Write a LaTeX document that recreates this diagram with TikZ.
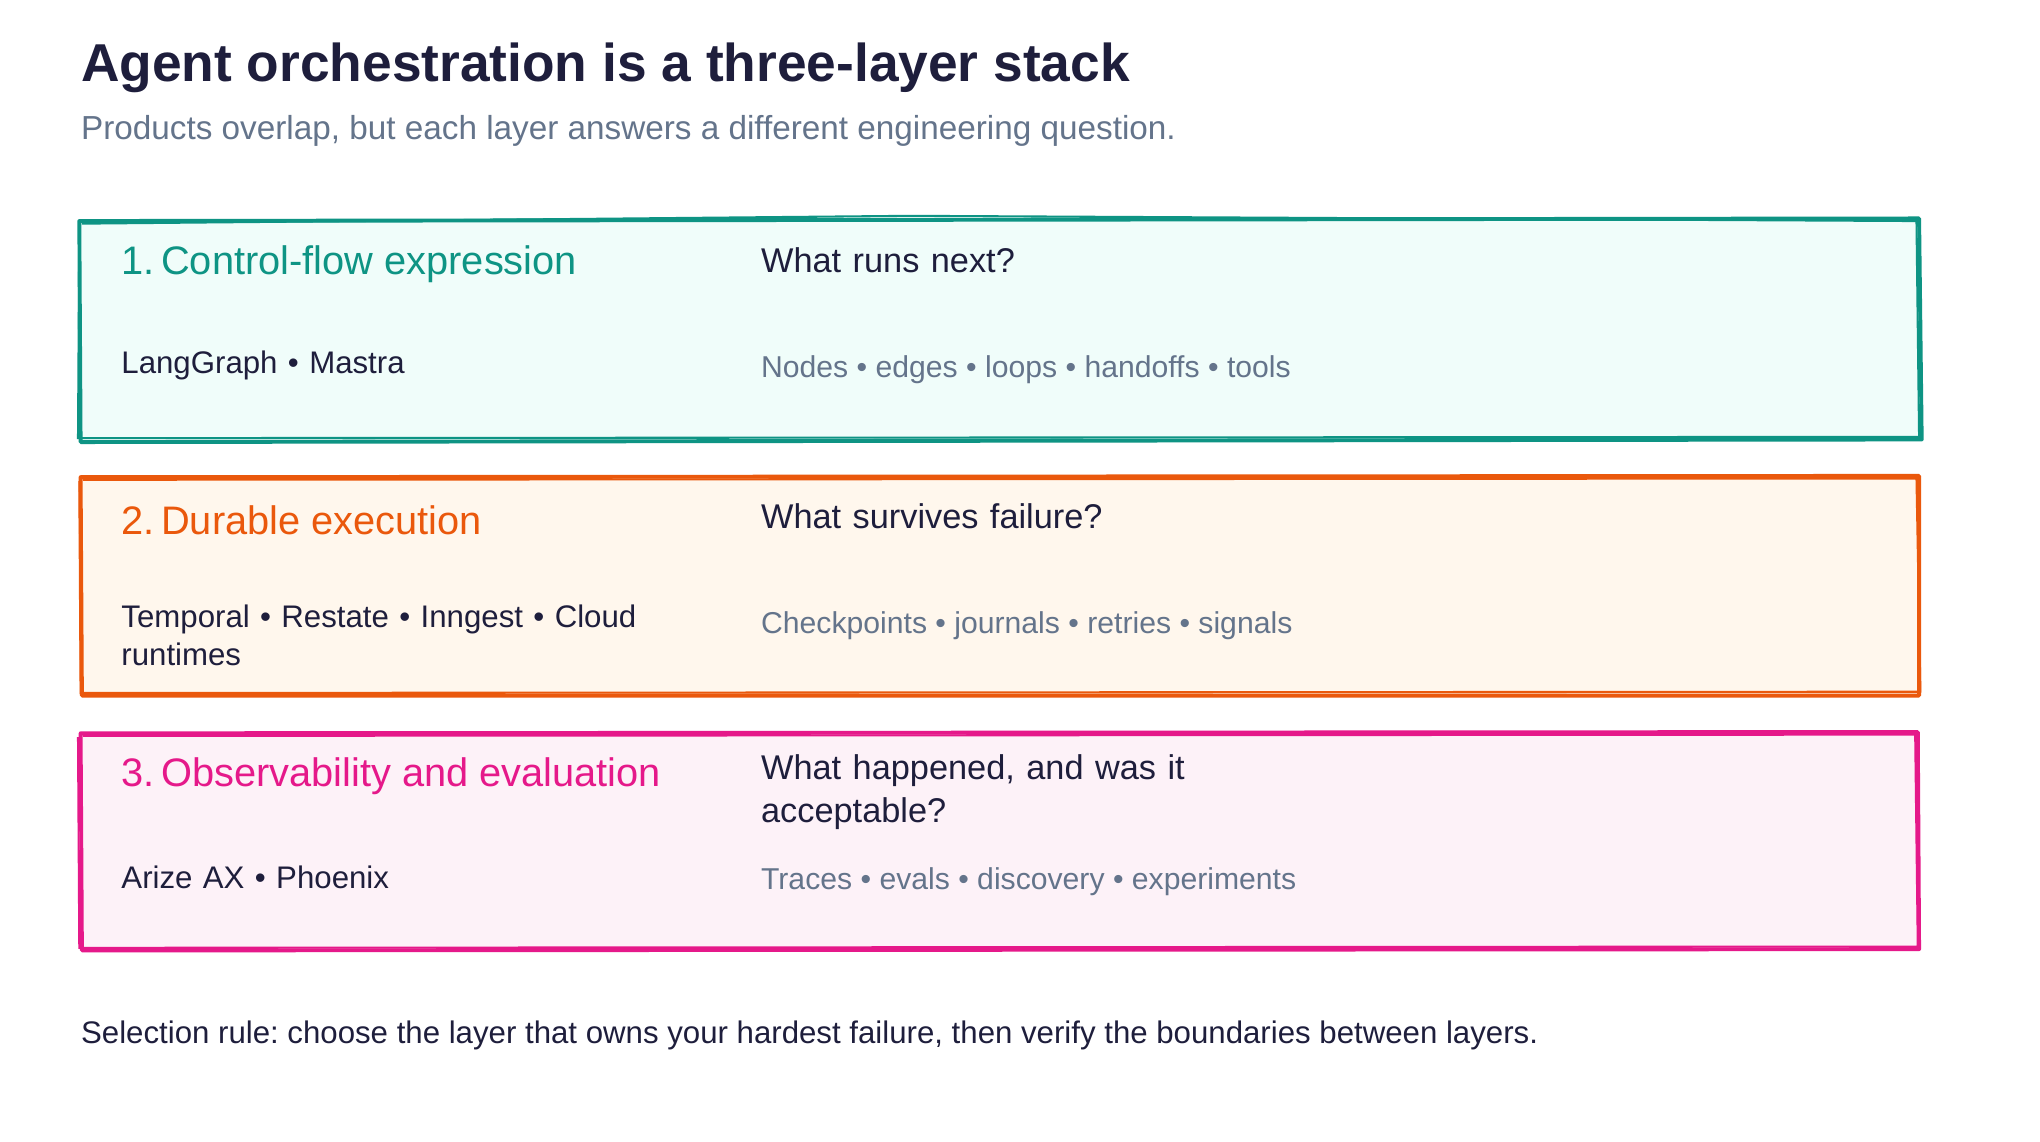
\documentclass[tikz,border=0pt]{standalone}
\usepackage{fontspec}
\setmainfont{Liberation Sans}
\frenchspacing
\hyphenpenalty=10000
\exhyphenpenalty=10000
\definecolor{ink}{HTML}{1E1E3C}
\definecolor{mute}{HTML}{64748B}
\definecolor{tealc}{HTML}{0E9484}
\definecolor{tealf}{HTML}{F0FDFA}
\definecolor{orc}{HTML}{EA580C}
\definecolor{orf}{HTML}{FFF7ED}
\definecolor{pkc}{HTML}{E5198A}
\definecolor{pkf}{HTML}{FDF2F8}
\begin{document}
\begin{tikzpicture}[x=0.5pt,y=-0.5pt,every node/.style={inner sep=0pt},
  head/.style={anchor=west,font=\fontsize{15.3}{18}\selectfont},
  q/.style={anchor=west,text=ink,font=\fontsize{13.2}{16.5}\selectfont,align=left,text width=170pt},
  item/.style={anchor=west,text=ink,font=\fontsize{12}{14.5}\selectfont,align=left,text width=200pt},
  feat/.style={anchor=west,text=mute,font=\fontsize{11.6}{14}\selectfont},
  edge/.style={line width=1.5pt,line join=round}]
\useasboundingbox (0,0) rectangle (1569,878);
\fill[white] (0,0) rectangle (1569,878);
\node[anchor=west,text=ink,font=\bfseries\fontsize{20.5}{24}\selectfont] (title) at (62,52) {Agent orchestration is a three-layer stack};
\node[anchor=west,text=mute,font=\fontsize{12.8}{15}\selectfont] (sub) at (62,101) {Products overlap, but each layer answers a different engineering question.};
% box 1
\fill[tealf] (61,170) rectangle (1477,339);
\draw[edge,tealc] (61,170) -- (1476,168) -- (1478,338) -- (62,340) -- cycle;
\draw[tealc,line width=0.8pt] (63,172) -- (700,166) -- (1474,170) -- (1476,336) -- (60,337) -- (61,175);
% box 2
\fill[orf] (62,367) rectangle (1476,535);
\draw[edge,orc] (62,367) -- (1476,366) -- (1476,535) -- (63,535) -- cycle;
\draw[orc,line width=0.8pt] (64,369) -- (1474,368) -- (1477,532) -- (62,533) -- (61,370);
% box 3
\fill[pkf] (62,564) rectangle (1476,731);
\draw[edge,pkc] (62,564) -- (1475,563) -- (1476,730) -- (63,731) -- cycle;
\draw[pkc,line width=0.8pt] (64,566) -- (1473,565) -- (1475,728) -- (61,729) -- (60,567);
\node[head,text=tealc] (h1) at (93,203) {1.\,Control-flow expression};
\node[q] (q1) at (585,200) {What runs next?};
\node[item] (i1) at (93,281) {LangGraph • Mastra};
\node[feat] (f1) at (585,284) {Nodes • edges • loops • handoffs • tools};
\node[head,text=orc] (h2) at (93,400) {2.\,Durable execution};
\node[q] (q2) at (585,397) {What survives failure?};
\node[item,anchor=north west] (i2) at (93,465) {Temporal • Restate • Inngest • Cloud runtimes};
\node[feat] (f2) at (585,481) {Checkpoints • journals • retries • signals};
\node[head,text=pkc] (h3) at (93,597) {3.\,Observability and evaluation};
\node[q,anchor=north west] (q3) at (585,580) {What happened, and was it acceptable?};
\node[item] (i3) at (93,675) {Arize AX • Phoenix};
\node[feat] (f3) at (585,678) {Traces • evals • discovery • experiments};
\node[anchor=west,text=ink,font=\fontsize{12}{14}\selectfont] (foot) at (62,796) {Selection rule: choose the layer that owns your hardest failure, then verify the boundaries between layers.};
\end{tikzpicture}
\end{document}
